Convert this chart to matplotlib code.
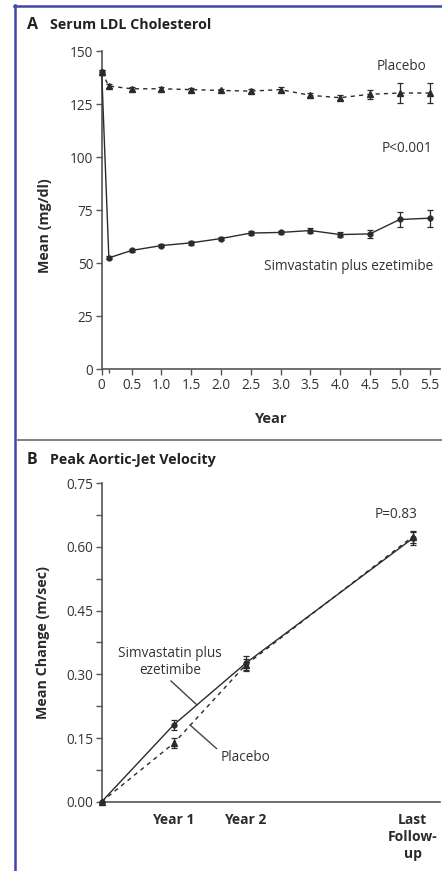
import matplotlib
matplotlib.use("Agg")
import matplotlib.pyplot as plt
from matplotlib.lines import Line2D
from matplotlib.ticker import FixedLocator

plt.rcParams['font.family'] = ['Open Sans', 'DejaVu Sans']

# Panel A: serum LDL cholesterol (mg/dl)
ldl_years = [0, 0.12, 0.5, 1.0, 1.5, 2.0, 2.5, 3.0, 3.5, 4.0, 4.5, 5.0, 5.5]
ldl_placebo = [140, 133.5, 132.2, 132.2, 131.8, 131.4, 131.1, 131.8, 129.1, 128.0, 129.6, 130.2, 130.2]
ldl_placebo_err = [1.2, 0.9, 0.9, 0.9, 0.9, 0.9, 0.9, 1.0, 1.0, 1.2, 2.2, 4.5, 4.5]
ldl_simva = [140, 52.5, 56.0, 58.3, 59.6, 61.6, 64.2, 64.5, 65.4, 63.5, 63.8, 70.6, 71.2]
ldl_simva_err = [1.2, 0.7, 0.8, 0.8, 0.8, 0.8, 0.9, 0.9, 1.0, 1.1, 2.0, 3.5, 4.0]
ldl_yticks = [0, 25, 50, 75, 100, 125, 150]
ldl_xticks = [0, 0.5, 1.0, 1.5, 2.0, 2.5, 3.0, 3.5, 4.0, 4.5, 5.0, 5.5]
ldl_xlabels = ['0', '0.5', '1.0', '1.5', '2.0', '2.5', '3.0', '3.5', '4.0', '4.5', '5.0', '5.5']

# Panel B: change in peak aortic-jet velocity (m/sec)
jet_x = [0, 1, 2, 4.32]
jet_labels = ['', 'Year 1', 'Year 2', 'Last\nFollow-\nup']
jet_simva = [0.0, 0.181, 0.326, 0.620]
jet_simva_err = [0.0, 0.011, 0.016, 0.015]
jet_placebo = [0.0, 0.1375, 0.322, 0.624]
jet_placebo_err = [0.0, 0.012, 0.015, 0.014]
jet_yticks = [0.0, 0.15, 0.30, 0.45, 0.60, 0.75]
jet_yminor = [0.075, 0.225, 0.375, 0.525, 0.675]

W, H = 442, 871
INK = '#2b2b2b'
AXIS = '#555555'
FS = 9.8


def px(x, y):
    return x / W, 1 - y / H


def style_axes(ax):
    for side in ('top', 'right'):
        ax.spines[side].set_visible(False)
    for side in ('left', 'bottom'):
        ax.spines[side].set_color(AXIS)
        ax.spines[side].set_linewidth(1.2)
    ax.tick_params(which='both', colors=AXIS, labelcolor='#333333',
                   labelsize=FS, direction='out', width=1.0)
    ax.tick_params(which='major', length=4.5, pad=1.5)
    ax.tick_params(which='minor', length=4.5)


fig = plt.figure(figsize=(W / 100, H / 100), dpi=100)

# ---- Panel A ----
axA = fig.add_axes([101.7 / W, 1 - 369.3 / H, 338.3 / W, 318.3 / H])
style_axes(axA)
axA.errorbar(ldl_years, ldl_placebo, yerr=ldl_placebo_err, color=INK, lw=1.0,
             ls=(0, (3, 3)), marker='^', ms=4, capsize=2, elinewidth=0.9,
             capthick=0.9, clip_on=False, zorder=3)
axA.errorbar(ldl_years, ldl_simva, yerr=ldl_simva_err, color=INK, lw=1.0,
             ls='-', marker='o', ms=3.5, capsize=2, elinewidth=0.9,
             capthick=0.9, clip_on=False, zorder=3)
axA.set_xlim(0, 5.676)
axA.set_ylim(0, 150)
axA.set_yticks(ldl_yticks)
axA.set_xticks(ldl_xticks)
axA.set_xticklabels(ldl_xlabels)
axA.xaxis.set_minor_locator(FixedLocator([0.12]))
axA.tick_params(axis='x', which='minor', length=3)
axA.set_xlabel('Year', fontsize=10.5, fontweight='bold', color=INK)
axA.xaxis.set_label_coords(0.5, -0.135)
axA.set_ylabel('Mean (mg/dl)', fontsize=10.3, fontweight='bold', color=INK)
axA.yaxis.set_label_coords(-0.148, 0.45)

fig.text(*px(402, 66), 'Placebo', ha='center', va='center', fontsize=FS, color='#333333')
fig.text(*px(407, 148), 'P<0.001', ha='center', va='center', fontsize=FS, color='#333333')
fig.text(*px(433, 266), 'Simvastatin plus ezetimibe', ha='right', va='center',
         fontsize=FS, color='#333333')

# ---- Panel B ----
axB = fig.add_axes([101.7 / W, 1 - 801.7 / H, 338.3 / W, 318.5 / H])
style_axes(axB)
axB.errorbar(jet_x, jet_placebo, yerr=jet_placebo_err, color=INK, lw=1.0,
             ls=(0, (3, 3)), marker='^', ms=4, capsize=2, elinewidth=0.9,
             capthick=0.9, clip_on=False, zorder=3)
axB.errorbar(jet_x, jet_simva, yerr=jet_simva_err, color=INK, lw=1.0,
             ls='-', marker='o', ms=3.5, capsize=2, elinewidth=0.9,
             capthick=0.9, clip_on=False, zorder=3)
axB.set_xlim(0, 4.70)
axB.set_ylim(0, 0.75)
axB.set_yticks(jet_yticks)
axB.set_yticklabels([f'{v:.2f}' for v in jet_yticks])
axB.yaxis.set_minor_locator(FixedLocator(jet_yminor))
axB.set_xticks(jet_x)
axB.set_xticklabels(jet_labels, fontweight='bold', fontsize=10, color=INK,
                    va='top', linespacing=1.3)
axB.tick_params(axis='x', length=0, pad=8)
axB.set_ylabel('Mean Change (m/sec)', fontsize=10.3, fontweight='bold', color=INK)
axB.yaxis.set_label_coords(-0.153, 0.5)

fig.text(*px(396, 515), 'P=0.83', ha='center', va='center', fontsize=FS, color='#333333')
fig.text(*px(170, 662), 'Simvastatin plus\nezetimibe', ha='center', va='center',
         fontsize=FS, color='#333333', linespacing=1.2)
fig.text(*px(246, 757), 'Placebo', ha='center', va='center', fontsize=FS, color='#333333')
fig.add_artist(Line2D([171 / W, 197 / W], [1 - 681 / H, 1 - 705 / H],
                      color='#444444', lw=1.0))
fig.add_artist(Line2D([190 / W, 216.5 / W], [1 - 725 / H, 1 - 748.5 / H],
                      color='#444444', lw=1.0))

# panel titles
fig.text(*px(27, 25), 'A', ha='left', va='center', fontsize=11.5, fontweight='bold', color='#222222')
fig.text(*px(50, 25), 'Serum LDL Cholesterol', ha='left', va='center',
         fontsize=10.3, fontweight='bold', color='#222222')
fig.text(*px(27, 460), 'B', ha='left', va='center', fontsize=11.5, fontweight='bold', color='#222222')
fig.text(*px(50, 460), 'Peak Aortic-Jet Velocity', ha='left', va='center',
         fontsize=10.3, fontweight='bold', color='#222222')

# frame: blue border on the left and top, grey divider between panels
fig.add_artist(Line2D([15 / W, 15 / W], [1 - 5 / H, 0], color='#3f47a8', lw=1.8))
fig.add_artist(Line2D([14 / W, 1], [1 - 6 / H, 1 - 6 / H], color='#3f47a8', lw=1.8))
fig.add_artist(Line2D([17 / W, 1], [1 - 440.5 / H, 1 - 440.5 / H], color='#808080', lw=1.4))

fig.savefig('out.png', dpi=100, facecolor='white')
